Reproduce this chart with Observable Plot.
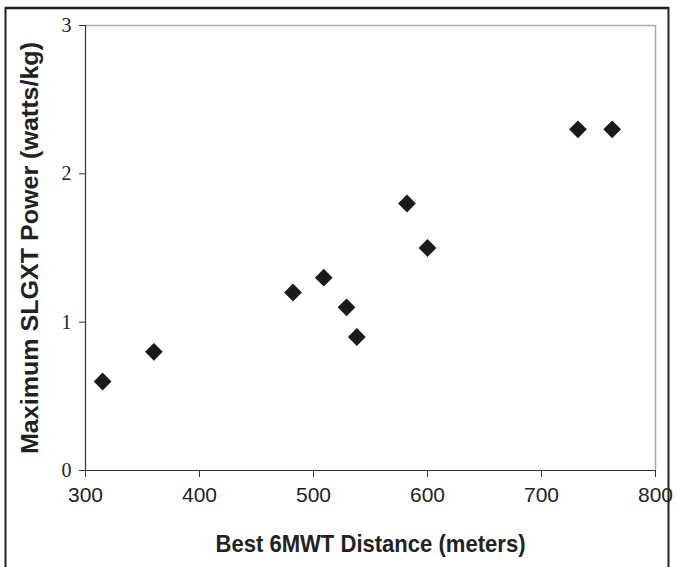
<!DOCTYPE html>
<html>
<head>
<meta charset="utf-8">
<script src="https://cdn.jsdelivr.net/npm/d3@7"></script>
<script src="https://cdn.jsdelivr.net/npm/@observablehq/plot@0.6"></script>
<style>
  html, body { margin: 0; padding: 0; background: #fff; }
</style>
</head>
<body>
<div id="wrap"></div>
<script>
const distance = [315, 360, 482, 509, 529, 538, 582, 600, 732, 762];
const power    = [0.6, 0.8, 1.2, 1.3, 1.1, 0.9, 1.8, 1.5, 2.3, 2.3];
const xTicks = [300, 400, 500, 600, 700, 800];
const yTicks = [0, 1, 2, 3];
const xLabel = "Best 6MWT Distance (meters)";
const yLabel = "Maximum SLGXT Power (watts/kg)";

const data = distance.map((d, i) => ({distance: d, power: power[i]}));

const chart = Plot.plot({
  width: 677,
  height: 567,
  marginLeft: 85,
  marginRight: 22,
  marginTop: 25,
  marginBottom: 97,
  style: {background: "#fff", overflow: "visible"},
  x: {domain: [300, 800], ticks: xTicks},
  y: {domain: [0, 3], ticks: yTicks},
  marks: [
    Plot.ruleY([3], {stroke: "#aaa", strokeWidth: 1.5}),
    Plot.ruleX([800], {stroke: "#aaa", strokeWidth: 1.5}),
    Plot.ruleX([300], {stroke: "#333", strokeWidth: 1.2}),
    Plot.ruleY([0], {stroke: "#333", strokeWidth: 1.2}),
    Plot.axisX({
      ticks: xTicks, tickSize: 7, tickPadding: 10, stroke: "#333",
      tickFormat: d3.format("d"),
      fontSize: 21, fontFamily: "Liberation Sans, Arial, sans-serif", fill: "#222",
      label: null
    }),
    Plot.axisY({
      ticks: yTicks, tickSize: 6, tickPadding: 8, stroke: "#333",
      tickFormat: d3.format("d"),
      fontSize: 20, fontFamily: "Liberation Serif, Times New Roman, serif", fill: "#222",
      label: null
    }),
    Plot.text([xLabel], {
      frameAnchor: "bottom", dy: 81, text: d => d, textAnchor: "middle",
      fontSize: 24, fontWeight: "bold", fontFamily: "Liberation Sans, Arial, sans-serif", fill: "#222",
      className: "xlab"
    }),
    Plot.text([yLabel], {
      frameAnchor: "left", dx: -55, rotate: -90, text: d => d, textAnchor: "middle",
      fontSize: 24, fontWeight: "bold", fontFamily: "Liberation Sans, Arial, sans-serif", fill: "#222",
      className: "ylab"
    }),
    Plot.dot(data, {x: "distance", y: "power", symbol: "diamond2", r: 8, fill: "#1a1a1a", stroke: "none"})
  ]
});
// condense axis titles to the reference widths
d3.select(chart).selectAll(".xlab text").attr("textLength", 310).attr("lengthAdjust", "spacingAndGlyphs");
d3.select(chart).selectAll(".ylab text").attr("textLength", 412).attr("lengthAdjust", "spacingAndGlyphs");
// outer frame of the figure
const svg = d3.select(chart);
svg.append("path")
  .attr("d", "M5.5,567 V8 H668.5 V567")
  .attr("fill", "none").attr("stroke", "#222").attr("stroke-width", 2);
svg.append("line")
  .attr("x1", 5).attr("x2", 669).attr("y1", 8).attr("y2", 8)
  .attr("stroke", "#222").attr("stroke-width", 2.5);
document.getElementById("wrap").append(chart);
</script>
</body>
</html>
